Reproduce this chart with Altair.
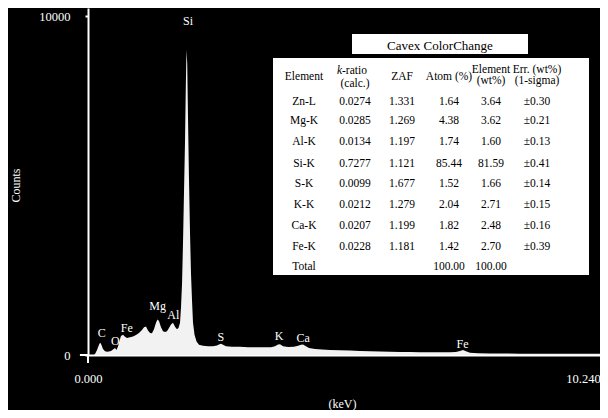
import altair as alt
import pandas as pd

# ---------------- data ----------------
energy_kev = [0.122, 0.143, 0.184, 0.224, 0.245, 0.265, 0.306, 0.347, 0.388, 0.428,
              0.469, 0.510, 0.551, 0.581, 0.612, 0.642, 0.673, 0.714, 0.755, 0.796,
              0.857, 0.918, 0.979, 1.040, 1.101, 1.142, 1.183, 1.224, 1.265, 1.305,
              1.346, 1.387, 1.418, 1.448, 1.489, 1.530, 1.571, 1.611, 1.652, 1.693,
              1.734, 1.775, 1.815, 1.846, 1.877, 1.897, 1.918, 1.938, 1.958, 1.979,
              1.995, 2.009, 2.024, 2.040, 2.060, 2.081, 2.101, 2.122, 2.142, 2.173,
              2.214, 2.264, 2.346, 2.448, 2.550, 2.631, 2.672, 2.713, 2.754, 2.815,
              2.937, 3.100, 3.264, 3.427, 3.590, 3.733, 3.815, 3.876, 3.917, 3.978,
              4.080, 4.202, 4.284, 4.345, 4.386, 4.427, 4.508, 4.631, 4.773, 4.936,
              5.140, 5.344, 5.548, 5.752, 5.956, 6.160, 6.364, 6.568, 6.772, 6.976,
              7.180, 7.384, 7.506, 7.588, 7.649, 7.710, 7.792, 7.955, 8.200, 8.506,
              8.812, 9.220, 9.628, 10.036, 10.444]
counts = [0, 30, 150, 300, 360, 330, 180, 110, 95, 100,
          120, 160, 210, 150, 250, 420, 560, 600, 540, 500,
          520, 545, 590, 650, 740, 820, 840, 720, 650, 640,
          760, 950, 1050, 1000, 820, 700, 680, 700, 800, 900,
          950, 830, 760, 800, 950, 1400, 2100, 3300, 4780, 6300,
          7900, 9000, 8600, 7000, 5200, 3600, 2400, 1600, 950, 600,
          400, 300, 270, 255, 260, 280, 310, 330, 300, 260,
          245, 240, 230, 225, 225, 230, 260, 310, 320, 260,
          235, 240, 270, 300, 310, 270, 210, 175, 160, 150,
          140, 130, 120, 110, 100, 95, 90, 85, 82, 80,
          80, 80, 85, 120, 150, 110, 70, 55, 45, 42,
          40, 40, 38, 36, 35]

peak_names = ["Si", "Mg", "Al", "Fe", "C", "O", "S", "K", "Ca", "Fe"]
peak_kev = [2.04, 1.42, 1.74, 0.79, 0.28, 0.56, 2.71, 3.90, 4.39, 7.64]
peak_counts = [9850, 1445, 1180, 805, 660, 420, 520, 560, 490, 324]

table_title = "Cavex ColorChange"
elements = ["Zn-L", "Mg-K", "Al-K", "Si-K", "S-K", "K-K", "Ca-K", "Fe-K", "Total"]
k_ratio = ["0.0274", "0.0285", "0.0134", "0.7277", "0.0099", "0.0212", "0.0207", "0.0228", ""]
zaf = ["1.331", "1.269", "1.197", "1.121", "1.677", "1.279", "1.199", "1.181", ""]
atom_pct = ["1.64", "4.38", "1.74", "85.44", "1.52", "2.04", "1.82", "1.42", "100.00"]
element_wt = ["3.64", "3.62", "1.60", "81.59", "1.66", "2.71", "2.48", "2.70", "100.00"]
err_wt = ["±0.30", "±0.21", "±0.13", "±0.41", "±0.14", "±0.15", "±0.16", "±0.39", ""]

x_tick_values = [0.0, 10.24]
y_tick_values = [0, 10000]

# ---------------- layout / style ----------------
FONT = "Liberation Serif"
W, H = 512, 347
# table layout (pixels inside the plot area)
col_px = [216, 267, 314, 361, 403, 449, 254, 352]   # 6 = k anchor, 7 = title
row_py = [62, 63, 69, 73, 76,                         # header sub-rows
          94, 113, 134, 155.5, 176, 197, 217.5, 239, 259,  # data rows
          38]                                         # title row

spec = pd.DataFrame({"keV": energy_kev, "counts": counts})
peaks = pd.DataFrame({"name": peak_names, "keV": peak_kev, "counts": peak_counts})

cells = [
    ("Element", 0, 2), ("(calc.)", 1, 4), ("ZAF", 2, 2), ("Atom (%)", 3, 2),
    ("Element", 4, 0), ("(wt%)", 4, 3), ("Err. (wt%)", 5, 0), ("(1-sigma)", 5, 3),
]
for i in range(len(elements)):
    r = 5 + i
    for c, col in enumerate([elements, k_ratio, zaf, atom_pct, element_wt, err_wt]):
        if col[i]:
            cells.append((col[i], c, r))
cells_df = pd.DataFrame(cells, columns=["text", "ci", "ri"])
title_df = pd.DataFrame({"text": [table_title], "ci": [7], "ri": [14]})
k_df = pd.DataFrame({"text": ["k"], "ci": [6], "ri": [1]})
ratio_df = pd.DataFrame({"text": ["-ratio"], "ci": [6], "ri": [1]})

px_expr = "[" + ",".join(str(v) for v in col_px) + "][datum.ci]"
py_expr = "[" + ",".join(str(v) for v in row_py) + "][datum.ri]"

xs = alt.Scale(domain=[0, 10.444], nice=False, zero=False)
ys = alt.Scale(domain=[0, 10236], nice=False, zero=False)

x_axis = alt.Axis(values=x_tick_values, format=".3f", title="(keV)", tickSize=0,
                  labelPadding=17, titleX=254, titleY=48, titleBaseline="middle",
                  labelFlush=False, grid=False,
                  labelOffset={"condition": {"test": "datum.value > 5", "value": -7},
                               "value": 0})
y_axis = alt.Axis(values=y_tick_values, format="d", title="Counts", tickSize=3,
                  labelPadding=15, titleX=-73, titleY=177, titleBaseline="middle",
                  titleAlign="center", grid=False)

area = alt.Chart(spec).mark_area(color="#f2f2f2").encode(
    x=alt.X("keV:Q", scale=xs, axis=x_axis),
    y=alt.Y("counts:Q", scale=ys, axis=y_axis),
)

one = pd.DataFrame({"a": [0]})
cross_h = alt.Chart(one).mark_rule(color="white", strokeWidth=2).encode(
    x=alt.datum(-0.165), x2=alt.datum(0.0), y=alt.datum(0))
cross_v = alt.Chart(one).mark_rule(color="white", strokeWidth=2).encode(
    x=alt.datum(0.0), y=alt.datum(-236), y2=alt.datum(0))

peak_text = alt.Chart(peaks).mark_text(color="white", font=FONT, fontSize=12,
                                       baseline="middle").encode(
    x="keV:Q", y="counts:Q", text="name:N")

main = alt.layer(area, cross_h, cross_v, peak_text)

title_box = alt.Chart(one).mark_rect(color="white").encode(
    x=alt.value(264), x2=alt.value(440), y=alt.value(26), y2=alt.value(46))
table_box = alt.Chart(one).mark_rect(color="white").encode(
    x=alt.value(185), x2=alt.value(501), y=alt.value(50), y2=alt.value(267))

def cell_layer(df, align, style, size):
    return alt.Chart(df).transform_calculate(px=px_expr, py=py_expr).mark_text(
        color="black", font=FONT, fontSize=size, align=align, baseline="middle",
        fontStyle=style).encode(
        x=alt.X("px:Q", scale=None), y=alt.Y("py:Q", scale=None), text="text:N")

table = alt.layer(title_box, table_box,
                  cell_layer(cells_df, "center", "normal", 11.5),
                  cell_layer(title_df, "center", "normal", 13),
                  cell_layer(k_df, "right", "italic", 11.5),
                  cell_layer(ratio_df, "left", "normal", 11.5))

chart = alt.layer(main, table).properties(
    width=W, height=H, background="black",
    padding={"left": 80, "top": 0, "right": 0, "bottom": 55},
    autosize=alt.AutoSizeParams(type="none"),
).configure_view(stroke=None).configure_axis(
    domainColor="white", domainWidth=2, tickColor="white", tickWidth=2,
    labelColor="white", labelFont=FONT, labelFontSize=12.5,
    titleColor="white", titleFont=FONT, titleFontSize=12, titleFontWeight="normal",
)

chart.save("out.html", embed_options={"renderer": "svg", "actions": False})
